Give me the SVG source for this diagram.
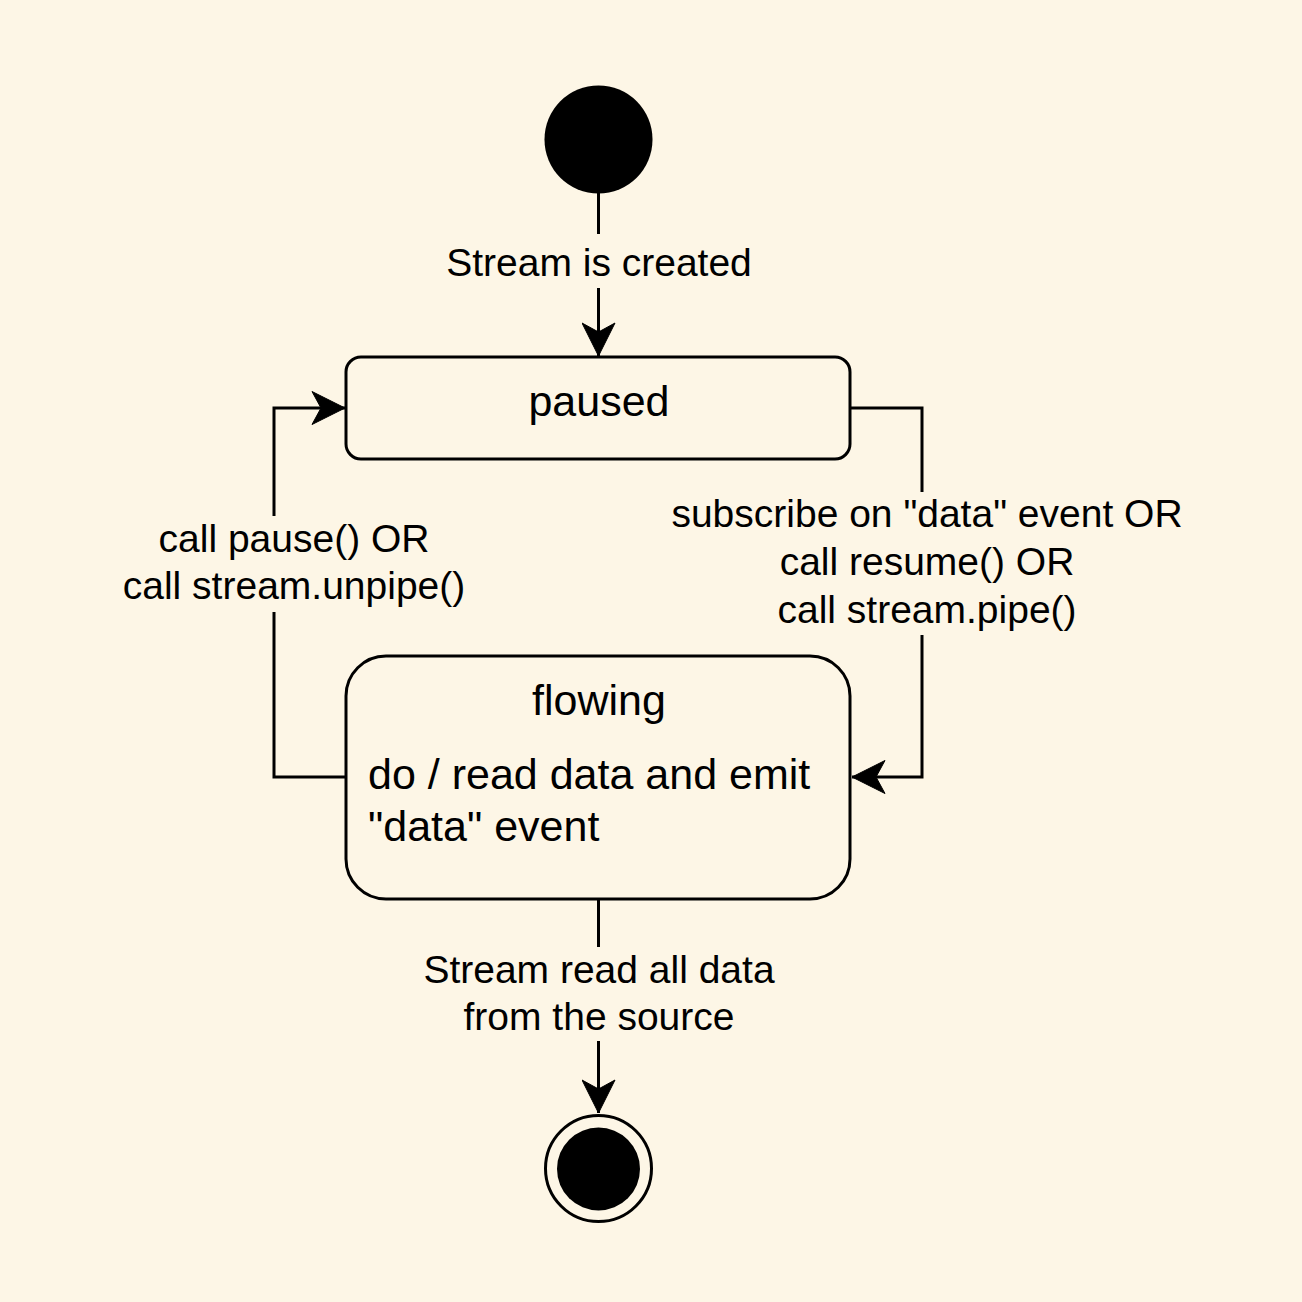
<svg xmlns="http://www.w3.org/2000/svg" width="1302" height="1302" viewBox="0 0 1302 1302">
  <style>
    .bg { fill: #fdf6e6; }
    .state { fill: #fdf6e6; stroke: #000; stroke-width: 3; }
    .edge { fill: none; stroke: #000; stroke-width: 3; }
    .lblbg { fill: #fdf6e6; stroke: none; }
    .elbl { font-family: "Liberation Sans", Arial, Helvetica, sans-serif; font-size: 39px; fill: #000; text-anchor: middle; }
    .slbl { font-family: "Liberation Sans", Arial, Helvetica, sans-serif; font-size: 43px; fill: #000; }
    .mid { text-anchor: middle; }
  </style>
  <defs>
    <marker id="arrow" viewBox="-34 -17 35 34" refX="0" refY="0" markerUnits="userSpaceOnUse" markerWidth="35" markerHeight="34" orient="auto">
      <path d="M0,0 L-33,-16.5 L-24,0 L-33,16.5 Z" fill="#000" stroke="#000" stroke-width="1" stroke-linejoin="miter"/>
    </marker>
  </defs>
  <rect class="bg" x="0" y="0" width="1302" height="1302"/>

  <g id="connectors">
    <path class="edge" d="M598.5,193 L598.5,356" marker-end="url(#arrow)"/>
    <path class="edge" d="M850,408 L922,408 L922,777 L852,777" marker-end="url(#arrow)"/>
    <path class="edge" d="M346,777 L274,777 L274,408 L345,408" marker-end="url(#arrow)"/>
    <path class="edge" d="M598.5,899 L598.5,1113" marker-end="url(#arrow)"/>

    <g id="label-created">
      <rect class="lblbg" x="440" y="234" width="320" height="54"/>
      <text class="elbl" x="599" y="276">Stream is created</text>
    </g>
    <g id="label-to-flowing">
      <rect class="lblbg" x="665" y="492" width="526" height="143"/>
      <text class="elbl" x="927" y="527">subscribe on "data" event OR</text>
      <text class="elbl" x="927" y="575">call resume() OR</text>
      <text class="elbl" x="927" y="623">call stream.pipe()</text>
    </g>
    <g id="label-to-paused">
      <rect class="lblbg" x="116" y="516" width="356" height="96"/>
      <text class="elbl" x="294" y="552">call pause() OR</text>
      <text class="elbl" x="294" y="599">call stream.unpipe()</text>
    </g>
    <g id="label-end">
      <rect class="lblbg" x="418" y="947" width="364" height="94"/>
      <text class="elbl" x="599" y="983">Stream read all data</text>
      <text class="elbl" x="599" y="1030">from the source</text>
    </g>
  </g>

  <g id="start">
    <circle cx="598.5" cy="139.5" r="54" fill="#000"/>
  </g>

  <g id="paused">
    <rect class="state" x="346" y="357" width="504" height="102" rx="15" ry="15"/>
    <text class="slbl mid" x="599" y="416">paused</text>
  </g>

  <g id="flowing">
    <rect class="state" x="346" y="656" width="504" height="243" rx="40" ry="40"/>
    <text class="slbl mid" x="599" y="715">flowing</text>
    <text class="slbl" x="368" y="789">do / read data and emit</text>
    <text class="slbl" x="368" y="841">"data" event</text>
  </g>

  <g id="end">
    <circle cx="598.5" cy="1168.5" r="53" fill="#fdf6e6" stroke="#000" stroke-width="3"/>
    <circle cx="598.5" cy="1169" r="41.5" fill="#000"/>
  </g>
</svg>
